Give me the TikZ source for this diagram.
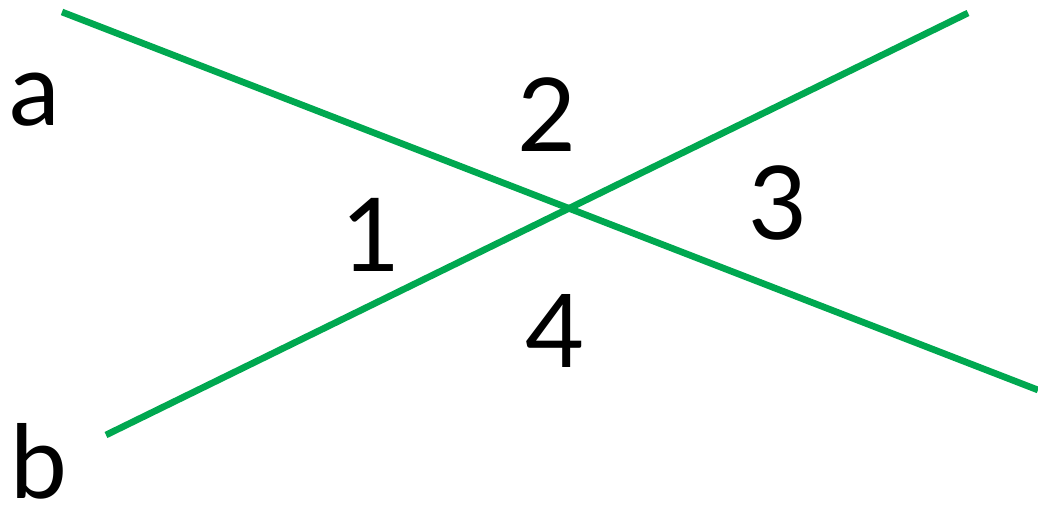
\documentclass[tikz,border=0pt]{standalone}
\usepackage{fontspec}
\setmainfont{Lato}
\usepackage{xcolor}
\usepackage{tikz}
\usetikzlibrary{calc, positioning}
\definecolor{lineGreen}{RGB}{0,168,80}
\tikzset{
    duong/.style={lineGreen, line width=3.8pt},
    nhan/.style={inner sep=0pt, font=\fontsize{58}{60}\selectfont}
}

\begin{document}
\begin{tikzpicture}[x=0.02cm, y=-0.02cm]
    \useasboundingbox (0,0) rectangle (1038,510);
    % 1. Hai đường thẳng a, b cắt nhau
    \coordinate (a1) at (62,12);
    \coordinate (a2) at (1038,390);
    \coordinate (b1) at (106,435);
    \coordinate (b2) at (968,13);
    \draw[duong] (a1) -- (a2);
    \draw[duong] (b1) -- (b2);

    % 2. Tên đường thẳng
    \node[nhan] (tenA) at (35,100) {a};
    \node[nhan] (tenB) at (39,461) {b};

    % 3. Các góc 1, 2, 3, 4
    \node[nhan] (goc1) at (371,235) {1};
    \node[nhan] (goc2) at (547,115) {2};
    \node[nhan] (goc3) at (778,203) {3};
    \node[nhan] (goc4) at (555,331) {4};
\end{tikzpicture}
\end{document}
